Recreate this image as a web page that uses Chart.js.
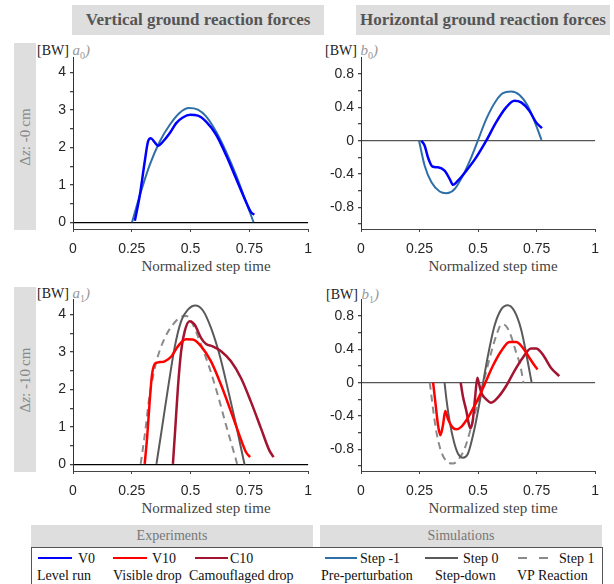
<!DOCTYPE html>
<html>
<head>
<meta charset="utf-8">
<script src="https://cdn.jsdelivr.net/npm/chart.js@4.4.1/dist/chart.umd.min.js"></script>
<style>
body { margin: 0; width: 614px; height: 584px; background: #fff; position: relative; overflow: hidden; font-family: "Liberation Serif", serif; }
.abs { position: absolute; }
.head { background: #dedede; color: #555; font-weight: bold; font-size: 17px; display: flex; align-items: center; justify-content: center; white-space: nowrap; }
.side { background: #dedede; }
.side span { position: absolute; left: 50%; top: 50%; transform: translate(-50%, -50%) rotate(-90deg); white-space: nowrap; color: #888; font-size: 15px; }
.unit { font-size: 14px; color: #222; white-space: nowrap; }
.unit i { color: #999; font-size: 15px; }
.unit sub { font-size: 10px; font-style: normal; }
.xt { font-family: "Liberation Serif", serif; font-size: 15px; color: #444; white-space: nowrap; transform: translateX(-50%); }
.lgbox { background: #dedede; color: #777; font-size: 14px; display: flex; align-items: center; justify-content: center; }
.lg { font-size: 14px; color: #111; white-space: nowrap; }
.sw { height: 0; }
canvas { position: absolute; }
</style>
</head>
<body>

<div class="abs head" style="left:72px;top:5px;width:252px;height:30px;">Vertical ground reaction forces</div>
<div class="abs head" style="left:356px;top:5px;width:254px;height:30px;">Horizontal ground reaction forces</div>

<div class="abs side" style="left:14px;top:43px;width:22px;height:187px;"><span>&Delta;<i>z</i>: -0&#8201;cm</span></div>
<div class="abs side" style="left:14px;top:287px;width:22px;height:185px;"><span>&Delta;<i>z</i>: -10&#8201;cm</span></div>

<div class="abs unit" style="left:37px;top:42px;">[BW] <i>a<sub>0</sub>)</i></div>
<div class="abs unit" style="left:325px;top:42px;">[BW] <i>b<sub>0</sub>)</i></div>
<div class="abs unit" style="left:37px;top:285px;">[BW] <i>a<sub>1</sub>)</i></div>
<div class="abs unit" style="left:326px;top:286px;">[BW] <i>b<sub>1</sub>)</i></div>

<div class="abs xt" style="left:206px;top:258px;">Normalized step time</div>
<div class="abs xt" style="left:493px;top:258px;">Normalized step time</div>
<div class="abs xt" style="left:206px;top:500px;">Normalized step time</div>
<div class="abs xt" style="left:493px;top:500px;">Normalized step time</div>

<canvas id="a0" width="291" height="208" style="left:30px;top:45px;"></canvas>
<canvas id="b0" width="290" height="208" style="left:318px;top:45px;"></canvas>
<canvas id="a1" width="291" height="208" style="left:30px;top:287px;"></canvas>
<canvas id="b1" width="290" height="208" style="left:318px;top:287px;"></canvas>

<div class="abs lgbox" style="left:31px;top:525px;width:282px;height:22px;">Experiments</div>
<div class="abs lgbox" style="left:320px;top:525px;width:282px;height:22px;">Simulations</div>
<div class="abs" style="left:31px;top:547px;width:570px;height:60px;border:1px solid #555;"></div>

<div class="abs sw" style="left:38px;top:557px;width:34px;border-top:2.5px solid #0000ff;"></div>
<div class="abs lg" style="left:78px;top:551px;">V0</div>
<div class="abs sw" style="left:113px;top:557px;width:34px;border-top:2.5px solid #ff0000;"></div>
<div class="abs lg" style="left:152px;top:551px;">V10</div>
<div class="abs sw" style="left:195px;top:557px;width:33px;border-top:2.5px solid #a2142f;"></div>
<div class="abs lg" style="left:230px;top:551px;">C10</div>
<div class="abs lg" style="left:37px;top:568px;">Level run</div>
<div class="abs lg" style="left:113px;top:568px;">Visible drop</div>
<div class="abs lg" style="left:189px;top:568px;">Camouflaged drop</div>

<div class="abs sw" style="left:325px;top:557px;width:32px;border-top:2px solid #2f6fa7;"></div>
<div class="abs lg" style="left:360px;top:551px;">Step -1</div>
<div class="abs sw" style="left:425px;top:557px;width:33px;border-top:2px solid #5a5a5a;"></div>
<div class="abs lg" style="left:463px;top:551px;">Step 0</div>
<div class="abs sw" style="left:518px;top:557px;width:9px;border-top:2px solid #8a8a8a;"></div>
<div class="abs sw" style="left:539px;top:557px;width:9px;border-top:2px solid #8a8a8a;"></div>
<div class="abs lg" style="left:559px;top:551px;">Step 1</div>
<div class="abs lg" style="left:321px;top:568px;">Pre-perturbation</div>
<div class="abs lg" style="left:435px;top:568px;">Step-down</div>
<div class="abs lg" style="left:517px;top:568px;">VP Reaction</div>

<script>
// ticks
const xTicks = [0, 0.25, 0.5, 0.75, 1];
const xTickLabels = ['0', '0.25', '0.5', '0.75', '1'];
const vertTicks = [0, 0.5, 1, 1.5, 2, 2.5, 3, 3.5, 4];
const vertTickLabels = ['0', '', '1', '', '2', '', '3', '', '4'];
const horTicks = [-1, -0.8, -0.6, -0.4, -0.2, 0, 0.2, 0.4, 0.6, 0.8];
const horTickLabels = ['', '-0.8', '', '-0.4', '', '0', '', '0.4', '', '0.8'];

// a0: vertical force, level (-0 cm)
const a0V0Time = [0.263, 0.284, 0.305, 0.319, 0.331, 0.345, 0.362, 0.383, 0.411, 0.439, 0.467, 0.499, 0.531, 0.566, 0.609, 0.651, 0.694, 0.736, 0.757, 0.771];
const a0V0Force = [0.05, 0.72, 1.62, 2.16, 2.25, 2.16, 2.05, 2.16, 2.38, 2.65, 2.80, 2.87, 2.85, 2.69, 2.34, 1.80, 1.17, 0.55, 0.28, 0.21];
const a0StepM1Time = [0.251, 0.284, 0.326, 0.369, 0.411, 0.453, 0.493, 0.531, 0.566, 0.609, 0.651, 0.694, 0.736, 0.768];
const a0StepM1Force = [0.01, 0.72, 1.53, 2.16, 2.60, 2.92, 3.05, 3.01, 2.83, 2.42, 1.89, 1.26, 0.55, 0.01];

// b0: horizontal force, level (-0 cm)
const b0V0Time = [0.258, 0.272, 0.286, 0.305, 0.329, 0.357, 0.379, 0.393, 0.414, 0.45, 0.492, 0.535, 0.577, 0.62, 0.655, 0.684, 0.719, 0.748, 0.773];
const b0V0Force = [0, -0.06, -0.20, -0.31, -0.32, -0.36, -0.46, -0.53, -0.48, -0.36, -0.20, 0, 0.22, 0.40, 0.48, 0.46, 0.36, 0.22, 0.15];
const b0StepM1Time = [0.248, 0.272, 0.301, 0.336, 0.365, 0.40, 0.435, 0.471, 0.499, 0.535, 0.577, 0.606, 0.641, 0.677, 0.712, 0.740, 0.771];
const b0StepM1Force = [0, -0.30, -0.50, -0.61, -0.63, -0.58, -0.42, -0.20, 0, 0.26, 0.48, 0.57, 0.59, 0.55, 0.42, 0.24, 0.01];

// a1: vertical force, drop (-10 cm)
const a1V10Time = [0.305, 0.316, 0.326, 0.336, 0.350, 0.369, 0.390, 0.418, 0.446, 0.481, 0.510, 0.545, 0.587, 0.630, 0.672, 0.708, 0.736, 0.753];
const a1V10Force = [0.02, 0.78, 1.67, 2.39, 2.70, 2.73, 2.75, 2.88, 3.15, 3.34, 3.33, 3.15, 2.75, 2.12, 1.41, 0.78, 0.33, 0.20];
const a1C10Time = [0.425, 0.435, 0.446, 0.460, 0.475, 0.496, 0.517, 0.545, 0.566, 0.594, 0.630, 0.672, 0.715, 0.757, 0.800, 0.835, 0.853];
const a1C10Force = [0.02, 0.96, 2.03, 3.02, 3.55, 3.82, 3.73, 3.37, 3.21, 3.15, 3.02, 2.75, 2.30, 1.67, 0.96, 0.38, 0.20];
const a1Step0Time = [0.355, 0.376, 0.404, 0.432, 0.460, 0.489, 0.520, 0.552, 0.587, 0.623, 0.658, 0.694, 0.726, 0.730];
const a1Step0Force = [0.02, 0.87, 2.03, 3.11, 3.82, 4.13, 4.24, 4.11, 3.64, 2.93, 2.03, 1.05, 0.11, 0];
const a1Step1Time = [0.288, 0.305, 0.326, 0.355, 0.390, 0.425, 0.458, 0.482, 0.510, 0.545, 0.581, 0.616, 0.651, 0.680, 0.698];
const a1Step1Force = [0.02, 0.78, 1.85, 2.75, 3.37, 3.73, 3.93, 3.96, 3.73, 3.19, 2.57, 1.85, 1.05, 0.42, 0.02];

// b1: horizontal force, drop (-10 cm)
const b1V10Time = [0.308, 0.319, 0.329, 0.339, 0.350, 0.360, 0.372, 0.389, 0.407, 0.428, 0.450, 0.471, 0.499, 0.528, 0.563, 0.599, 0.634, 0.663, 0.691, 0.719, 0.743, 0.754];
const b1V10Force = [0, -0.27, -0.51, -0.63, -0.51, -0.34, -0.44, -0.53, -0.56, -0.53, -0.45, -0.35, -0.20, -0.02, 0.20, 0.38, 0.49, 0.49, 0.42, 0.30, 0.20, 0.16];
const b1C10Time = [0.426, 0.435, 0.450, 0.461, 0.468, 0.478, 0.488, 0.497, 0.503, 0.514, 0.535, 0.556, 0.584, 0.620, 0.655, 0.691, 0.726, 0.748, 0.776, 0.811, 0.847];
const b1C10Force = [0, -0.16, -0.34, -0.50, -0.55, -0.44, -0.16, 0.06, 0, -0.12, -0.20, -0.24, -0.18, -0.04, 0.14, 0.30, 0.41, 0.41, 0.34, 0.18, 0.08];
const b1Step0Time = [0.357, 0.365, 0.379, 0.397, 0.414, 0.435, 0.457, 0.485, 0.514, 0.542, 0.570, 0.599, 0.627, 0.655, 0.684, 0.705, 0.729];
const b1Step0Force = [0, -0.20, -0.47, -0.71, -0.85, -0.90, -0.85, -0.55, -0.12, 0.32, 0.68, 0.88, 0.93, 0.86, 0.64, 0.36, 0];
const b1Step1Time = [0.294, 0.308, 0.322, 0.343, 0.369, 0.393, 0.414, 0.443, 0.471, 0.499, 0.528, 0.556, 0.582, 0.601, 0.620, 0.641, 0.663, 0.681, 0.694];
const b1Step1Force = [0, -0.32, -0.59, -0.83, -0.95, -0.97, -0.93, -0.79, -0.53, -0.24, 0.06, 0.36, 0.60, 0.70, 0.68, 0.56, 0.36, 0.20, 0];

const styles = {
    V0: { color: '#0000ff', width: 2.5 },
    V10: { color: '#ff0000', width: 2.5 },
    C10: { color: '#a2142f', width: 2.5 },
    StepM1: { color: '#2f6fa7', width: 2 },
    Step0: { color: '#5a5a5a', width: 2 },
    Step1: { color: '#8a8a8a', width: 2, dash: [7, 5] }
};

function series(name, xs, ys) {
    const s = styles[name];
    return {
        label: name,
        data: xs.map((x, i) => ({ x: x, y: ys[i] })),
        showLine: true,
        borderColor: s.color,
        borderWidth: s.width,
        borderDash: s.dash || [],
        pointRadius: 0,
        cubicInterpolationMode: 'monotone',
        fill: false
    };
}

function makeChart(id, datasets, yTicks, yLabels, yMin, yMax, zeroColor) {
    return new Chart(document.getElementById(id), {
        type: 'scatter',
        data: { datasets: datasets },
        options: {
            responsive: false,
            animation: false,
            layout: { padding: { top: 8, right: 4, left: 0, bottom: 0 } },
            plugins: { legend: { display: false }, tooltip: { enabled: false } },
            scales: {
                x: {
                    type: 'linear', min: 0, max: 1,
                    afterBuildTicks: s => { s.ticks = xTicks.map(v => ({ value: v })); },
                    afterFit: s => { s.height = 24; },
                    ticks: { autoSkip: false, maxRotation: 0, padding: 9, color: '#262626',
                        font: { family: 'Liberation Sans', size: 14 },
                        callback: (v, i) => xTickLabels[i] },
                    grid: { drawOnChartArea: false, tickLength: 3, tickColor: '#444' },
                    border: { color: '#444', width: 1 }
                },
                y: {
                    type: 'linear', min: yMin, max: yMax,
                    afterBuildTicks: s => { s.ticks = yTicks.map(v => ({ value: v })); },
                    afterFit: s => { s.width = 43; },
                    ticks: { autoSkip: false, padding: 4, color: '#262626',
                        font: { family: 'Liberation Sans', size: 14 },
                        callback: (v, i) => yLabels[i] },
                    grid: {
                        tickLength: 3, tickColor: '#444', lineWidth: 1.3,
                        color: c => (c.tick && Math.abs(c.tick.value) < 1e-9) ? zeroColor : 'rgba(0,0,0,0)'
                    },
                    border: { color: '#333', width: 1 }
                }
            }
        }
    });
}

makeChart('a0', [
    series('V0', a0V0Time, a0V0Force),
    series('StepM1', a0StepM1Time, a0StepM1Force)
], vertTicks, vertTickLabels, -0.17, 4.4, '#000');

makeChart('b0', [
    series('V0', b0V0Time, b0V0Force),
    series('StepM1', b0StepM1Time, b0StepM1Force)
], horTicks, horTickLabels, -1.06, 1.0, '#555');

makeChart('a1', [
    series('V10', a1V10Time, a1V10Force),
    series('C10', a1C10Time, a1C10Force),
    series('Step0', a1Step0Time, a1Step0Force),
    series('Step1', a1Step1Time, a1Step1Force)
], vertTicks, vertTickLabels, -0.17, 4.4, '#000');

makeChart('b1', [
    series('V10', b1V10Time, b1V10Force),
    series('C10', b1C10Time, b1C10Force),
    series('Step0', b1Step0Time, b1Step0Force),
    series('Step1', b1Step1Time, b1Step1Force)
], horTicks, horTickLabels, -1.06, 1.0, '#555');
</script>
</body>
</html>
